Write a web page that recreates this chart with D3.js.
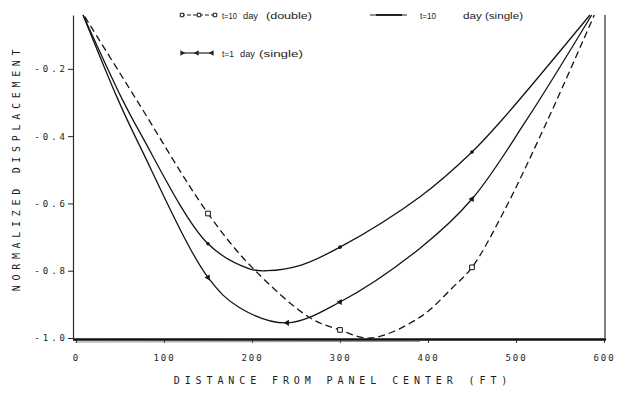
<!DOCTYPE html>
<html>
<head>
<meta charset="utf-8">
<script src="https://cdn.jsdelivr.net/npm/d3@7"></script>
<style>
body { margin: 0; background: #fff; }
svg { display: block; background: #fff; }
.plotter { font-family: "DejaVu Sans Mono", monospace; fill: #1c1c1c; }
.legend text { font-family: "Liberation Sans", Arial, sans-serif; font-size: 9.5px; fill: #222; }
.curve { fill: none; stroke: #141414; stroke-width: 1.3; }
.dashed { stroke-dasharray: 7 4; }
.mark { fill: #fff; stroke: #141414; stroke-width: 1; }
</style>
</head>
<body>
<svg id="chart" width="617" height="399"></svg>
<script>
// values: [distance from panel center (ft), normalized displacement]
const t10Double = [[10,-0.045],[69,-0.293],[150,-0.63],[200,-0.79],[266,-0.94],[300,-0.976],
                   [335,-1.0],[391,-0.938],[428,-0.85],[450,-0.79],[485,-0.63],[536,-0.352],[589,-0.04]];
const t10Single = [[8,-0.04],[53,-0.293],[73,-0.391],[150,-0.72],[198,-0.795],[217,-0.8],
                   [255,-0.784],[300,-0.73],[391,-0.58],[450,-0.447],[484,-0.352],[584,-0.04]];
const t1Single  = [[8,-0.04],[48,-0.293],[73,-0.432],[150,-0.82],[186,-0.91],[240,-0.955],
                   [300,-0.893],[391,-0.733],[450,-0.587],[512,-0.352],[586,-0.04]];

// distances where the plot puts a symbol on each curve
const t10DoubleMarks = [150, 300, 450];
const t10SingleMarks = [150, 300, 450];
const t1SingleMarks  = [150, 240, 300, 450];

const xTicks = [0, 100, 200, 300, 400, 500, 600];
const yTicks = [-0.2, -0.4, -0.6, -0.8, -1.0];
const yTickLabels = ["-0.2", "-0.4", "-0.6", "-0.8", "-1.0"];

const svg = d3.select("#chart");

const x = d3.scaleLinear().domain([0, 600]).range([76, 604]);
const y = d3.scaleLinear().domain([-1.0, -0.04]).range([338, 15]);

svg.append("defs").append("clipPath").attr("id", "clip")
    .append("rect").attr("x", 73).attr("y", 12).attr("width", 533).attr("height", 328);

// axes
const yAxis = d3.axisLeft(y).tickValues(yTicks).tickSize(5).tickSizeOuter(0)
    .tickFormat((d, i) => yTickLabels[i]);
const gy = svg.append("g").attr("transform", "translate(73,0)").call(yAxis);
gy.select(".domain").attr("stroke", "#2a2a2a").attr("stroke-width", 1.2);
gy.selectAll(".tick line").attr("stroke", "#222");
gy.selectAll(".tick text").attr("class", "plotter").attr("x", -5)
    .style("font-size", "9px").style("letter-spacing", "3px").attr("font-family", null);

const xAxis = d3.axisBottom(x).tickValues(xTicks).tickSize(3).tickPadding(12).tickSizeOuter(0);
const gx = svg.append("g").attr("transform", "translate(0,340)").call(xAxis);
gx.select(".domain").remove();
gx.selectAll(".tick line").attr("stroke", "#333");
gx.selectAll(".tick text").attr("class", "plotter")
    .style("font-size", "9px").style("letter-spacing", "2px").attr("font-family", null);

// heavy base line and right frame
svg.append("line").attr("x1", 73).attr("x2", 606).attr("y1", y(-1.0) + 1.5).attr("y2", y(-1.0) + 1.5)
    .attr("stroke", "#111").attr("stroke-width", 2.6);
svg.append("line").attr("x1", 75).attr("x2", 420).attr("y1", y(-1.0) + 4).attr("y2", y(-1.0) + 3.4)
    .attr("stroke", "#777").attr("stroke-width", 0.8);
svg.append("line").attr("x1", 605).attr("x2", 605).attr("y1", 15).attr("y2", 340)
    .attr("stroke", "#2a2a2a").attr("stroke-width", 1.2);

// axis titles
svg.append("text").attr("class", "plotter")
    .attr("x", 343).attr("y", 384).attr("text-anchor", "middle")
    .style("font-size", "10px").style("letter-spacing", "4.9px")
    .text("DISTANCE FROM PANEL CENTER (FT)");
svg.append("text").attr("class", "plotter")
    .attr("transform", "translate(20,168) rotate(-90)").attr("text-anchor", "middle")
    .style("font-size", "10px").style("letter-spacing", "4.7px")
    .text("NORMALIZED DISPLACEMENT");

// curves
const line = d3.line().x(d => x(d[0])).y(d => y(d[1])).curve(d3.curveCatmullRom.alpha(0.5));
const plot = svg.append("g").attr("clip-path", "url(#clip)");

plot.append("path").datum(t10Double).attr("class", "curve dashed").attr("d", line);
plot.append("path").datum(t10Single).attr("class", "curve").attr("d", line);
plot.append("path").datum(t1Single).attr("class", "curve").attr("d", line);

function pick(series, marks) {
    return marks.map(m => series.find(p => p[0] === m));
}

const square = d3.symbol().type(d3.symbolSquare).size(22);
const tri = d3.symbol().type(d3.symbolTriangle).size(16);

plot.selectAll("path.sq").data(pick(t10Double, t10DoubleMarks)).enter()
    .append("path").attr("class", "mark sq").attr("d", square)
    .attr("transform", d => `translate(${x(d[0])},${y(d[1])})`);
plot.selectAll("circle.dot").data(pick(t10Single, t10SingleMarks)).enter()
    .append("circle").attr("class", "dot").attr("r", 1.8).attr("fill", "#141414")
    .attr("cx", d => x(d[0])).attr("cy", d => y(d[1]));
plot.selectAll("path.tri").data(pick(t1Single, t1SingleMarks)).enter()
    .append("path").attr("class", "tri").attr("d", tri).attr("fill", "#141414")
    .attr("transform", d => `translate(${x(d[0])},${y(d[1])}) rotate(-90)`);

// legend
const legend = svg.append("g").attr("class", "legend");

function legendSample(x0, x1, yy, dashed) {
    legend.append("line").attr("x1", x0).attr("x2", x1).attr("y1", yy).attr("y2", yy)
        .attr("stroke", "#222").attr("stroke-width", 1.2)
        .attr("stroke-dasharray", dashed ? "4 2" : null);
}
function legendText(parts, yy) {
    parts.forEach(p => legend.append("text").attr("x", p[0]).attr("y", yy + 3.5)
        .attr("textLength", p[2]).attr("lengthAdjust", "spacingAndGlyphs").text(p[1]));
}

legendSample(181, 217, 15, true);
[182, 199, 215].forEach(cx => legend.append("path").attr("class", "mark").attr("d", d3.symbol().type(d3.symbolSquare).size(12))
    .attr("transform", `translate(${cx},15)`));
legendText([[222, "t=10", 15], [243, "day", 15], [266, "(double)", 46]], 15);

legendSample(370, 407, 15, false);
legend.append("line").attr("x1", 376).attr("x2", 402).attr("y1", 15).attr("y2", 15)
    .attr("stroke", "#222").attr("stroke-width", 2);
legendText([[420, "t=10", 16], [463, "day (single)", 60]], 15);

legendSample(181, 213, 53, false);
[[182, 90], [197, -90], [212, -90]].forEach(p => legend.append("path").attr("d", d3.symbol().type(d3.symbolTriangle).size(14))
    .attr("fill", "#222").attr("transform", `translate(${p[0]},53) rotate(${p[1]})`));
legendText([[222, "t=1", 12], [240, "day", 15], [259, "(single)", 44]], 53);
</script>
</body>
</html>
